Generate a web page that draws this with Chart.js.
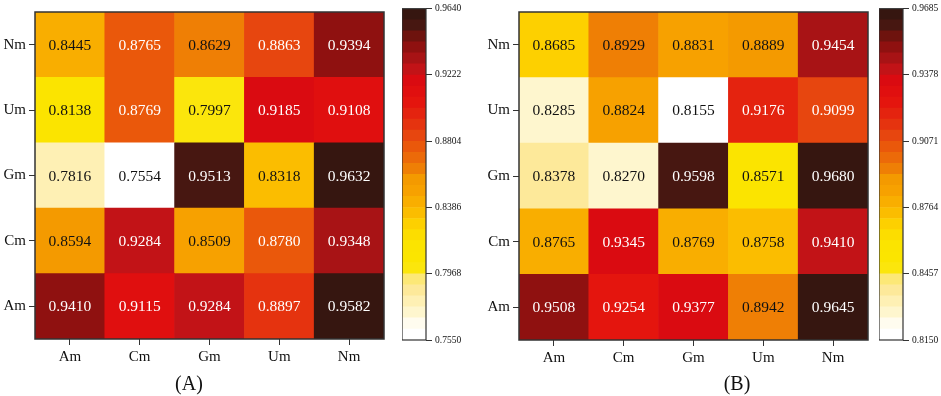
<!DOCTYPE html>
<html>
<head>
<meta charset="utf-8">
<script src="https://cdn.jsdelivr.net/npm/chart.js@4.4.1/dist/chart.umd.min.js"></script>
<style>
  html, body { margin: 0; padding: 0; background: #fff; }
  #wrap { position: relative; width: 941px; height: 396px; overflow: hidden; background: #fff; }
  canvas { position: absolute; }
  .cap { position: absolute; font-family: 'Liberation Serif', 'DejaVu Serif', serif; font-size: 20px; color: #111; transform: translate(-50%, -50%); white-space: nowrap; }
</style>
</head>
<body>
<div id="wrap">
  <div style="position:absolute;left:0;top:0;width:390px;height:380px;"><canvas id="hA"></canvas></div>
  <div style="position:absolute;left:402px;top:0;width:60px;height:360px;"><canvas id="cA"></canvas></div>
  <div style="position:absolute;left:470px;top:0;width:404px;height:380px;"><canvas id="hB"></canvas></div>
  <div style="position:absolute;left:879px;top:0;width:62px;height:360px;"><canvas id="cB"></canvas></div>
  <div class="cap" style="left:189px;top:383px;">(A)</div>
  <div class="cap" style="left:737px;top:383px;">(B)</div>
</div>
<script>
// ---------------- DATA ----------------
const rowLabels = ['Am', 'Cm', 'Gm', 'Um', 'Nm'];   // bottom to top
const colLabels = ['Am', 'Cm', 'Gm', 'Um', 'Nm'];

// Panel A values, one array per row
const A_Am = [0.9410, 0.9115, 0.9284, 0.8897, 0.9582];
const A_Cm = [0.8594, 0.9284, 0.8509, 0.8780, 0.9348];
const A_Gm = [0.7816, 0.7554, 0.9513, 0.8318, 0.9632];
const A_Um = [0.8138, 0.8769, 0.7997, 0.9185, 0.9108];
const A_Nm = [0.8445, 0.8765, 0.8629, 0.8863, 0.9394];

// Panel B values, one array per row
const B_Am = [0.9508, 0.9254, 0.9377, 0.8942, 0.9645];
const B_Cm = [0.8765, 0.9345, 0.8769, 0.8758, 0.9410];
const B_Gm = [0.8378, 0.8270, 0.9598, 0.8571, 0.9680];
const B_Um = [0.8285, 0.8824, 0.8155, 0.9176, 0.9099];
const B_Nm = [0.8685, 0.8929, 0.8831, 0.8889, 0.9454];

// Colorbar tick labels
const A_ticks = ['0.7550', '0.7968', '0.8386', '0.8804', '0.9222', '0.9640'];
const B_ticks = ['0.8150', '0.8457', '0.8764', '0.9071', '0.9378', '0.9685'];

// ---------------- COLOR MAP ----------------
const N_BANDS = 30;
const anchors = [
  [0.00, '#ffffff'], [0.035, '#ffffff'], [0.06, '#fffae4'], [0.09, '#fef5c8'], [0.15, '#fde99a'],
  [0.19, '#fce870'], [0.22, '#fbe600'], [0.30, '#fbe300'], [0.35, '#fdd000'],
  [0.40, '#fab400'], [0.45, '#f7a100'], [0.50, '#f39700'], [0.52, '#ee7a06'],
  [0.58, '#ea5a0b'], [0.62, '#e7440f'], [0.67, '#e4280f'], [0.72, '#e4140e'],
  [0.78, '#dc0a10'], [0.82, '#c01418'], [0.86, '#a01214'], [0.89, '#8a110f'],
  [0.92, '#6a130e'], [0.945, '#4a1711'], [1.00, '#2e1610']
];
function hex2rgb(h) { return [parseInt(h.slice(1,3),16), parseInt(h.slice(3,5),16), parseInt(h.slice(5,7),16)]; }
function cmap(t) {
  t = Math.max(0, Math.min(1, t));
  for (let i = 0; i < anchors.length - 1; i++) {
    const [t0, c0] = anchors[i], [t1, c1] = anchors[i + 1];
    if (t <= t1) {
      const f = (t - t0) / (t1 - t0);
      const a = hex2rgb(c0), b = hex2rgb(c1);
      return 'rgb(' + a.map((v, k) => Math.round(v + (b[k] - v) * f)).join(',') + ')';
    }
  }
  return anchors[anchors.length - 1][1];
}
function bandIndex(t) { return Math.max(0, Math.min(N_BANDS - 1, Math.floor(t * N_BANDS))); }
function bandColor(i) { return cmap((i + 0.5) / N_BANDS); }

Chart.defaults.font.family = "'Liberation Serif', 'DejaVu Serif', serif";
Chart.defaults.color = '#111';

const borderPlugin = {
  id: 'boxBorder',
  afterDraw(chart) {
    const a = chart.chartArea, ctx = chart.ctx;
    ctx.save();
    ctx.strokeStyle = '#333';
    ctx.lineWidth = chart.options.plugins.boxBorder.width || 1.5;
    ctx.strokeRect(a.left, a.top, a.right - a.left, a.bottom - a.top);
    ctx.restore();
  }
};

const cellTextPlugin = {
  id: 'cellText',
  afterDatasetsDraw(chart) {
    const ctx = chart.ctx;
    const o = chart.options.plugins.cellText;
    ctx.save();
    ctx.font = "15.5px 'Liberation Serif', 'DejaVu Serif', serif";
    ctx.textAlign = 'center';
    ctx.textBaseline = 'middle';
    chart.data.datasets.forEach((ds, di) => {
      const meta = chart.getDatasetMeta(di);
      meta.data.forEach((el, i) => {
        const v = ds.values[i];
        const t = (v - o.vmin) / (o.vmax - o.vmin);
        ctx.fillStyle = t > 0.55 ? '#ffffff' : '#111111';
        ctx.fillText(v.toFixed(4), el.x, (el.y + el.base) / 2 + 1);
      });
    });
    ctx.restore();
  }
};

function heatmap(id, rowsData, tickLabels, yWidth, topPad, xHeight) {
  const vmin = parseFloat(tickLabels[0]), vmax = parseFloat(tickLabels[tickLabels.length - 1]);
  const datasets = rowsData.map((vals, r) => ({
    label: rowLabels[r],
    values: vals,
    data: vals.map(() => [r, r + 1]),
    backgroundColor: vals.map(v => bandColor(bandIndex((v - vmin) / (vmax - vmin)))),
    borderWidth: 0,
    barPercentage: 1.0,
    categoryPercentage: 1.0,
    grouped: false
  }));
  return new Chart(document.getElementById(id), {
    type: 'bar',
    data: { labels: colLabels, datasets },
    options: {
      responsive: true, maintainAspectRatio: false, animation: false,
      layout: { padding: { left: 0, right: 6, top: topPad, bottom: 0 } },
      plugins: { legend: { display: false }, tooltip: { enabled: false },
        boxBorder: { width: 1.5 }, cellText: { vmin, vmax } },
      scales: {
        x: {
          grid: { drawOnChartArea: false, offset: false, tickLength: 6, color: '#333', lineWidth: 1 },
          border: { display: false },
          ticks: { font: { size: 15 }, color: '#111', padding: 3, maxRotation: 0 },
          afterFit(s) { s.height = xHeight; }
        },
        y: {
          min: 0, max: 5,
          grid: { drawOnChartArea: false, tickLength: 6, color: '#333', lineWidth: 1 },
          border: { display: false },
          afterBuildTicks(s) { s.ticks = [0.5, 1.5, 2.5, 3.5, 4.5].map(v => ({ value: v })); },
          ticks: { autoSkip: false, font: { size: 15 }, color: '#111', padding: 3,
            callback: (v) => rowLabels[Math.floor(v)] },
          afterFit(s) { s.width = yWidth; }
        }
      }
    },
    plugins: [borderPlugin, cellTextPlugin]
  });
}

function colorbar(id, tickLabels, yWidth, topPad, bottomPad) {
  const vmin = parseFloat(tickLabels[0]), vmax = parseFloat(tickLabels[tickLabels.length - 1]);
  const step = (vmax - vmin) / N_BANDS;
  const datasets = [];
  for (let i = 0; i < N_BANDS; i++) {
    datasets.push({
      data: [[vmin + i * step, vmin + (i + 1) * step]],
      backgroundColor: bandColor(i),
      borderWidth: 0, barPercentage: 1.0, categoryPercentage: 1.0, grouped: false
    });
  }
  return new Chart(document.getElementById(id), {
    type: 'bar',
    data: { labels: [''], datasets },
    options: {
      responsive: true, maintainAspectRatio: false, animation: false,
      layout: { padding: { left: 0, right: 0, top: topPad, bottom: bottomPad } },
      plugins: { legend: { display: false }, tooltip: { enabled: false }, boxBorder: { width: 1.2 } },
      scales: {
        x: { display: false },
        y: {
          position: 'right', min: vmin, max: vmax,
          grid: { drawOnChartArea: false, tickLength: 6, color: '#333', lineWidth: 1 },
          border: { display: false },
          afterBuildTicks(s) { s.ticks = tickLabels.map(t => ({ value: parseFloat(t) })); },
          ticks: { autoSkip: false, font: { size: 9.5 }, color: '#111', padding: 3,
            callback: (v, i) => tickLabels[i] },
          afterFit(s) { s.width = yWidth; }
        }
      }
    },
    plugins: [borderPlugin]
  });
}

heatmap('hA', [A_Am, A_Cm, A_Gm, A_Um, A_Nm], A_ticks, 35, 4, 41);
colorbar('cA', A_ticks, 36, 5, 20);
heatmap('hB', [B_Am, B_Cm, B_Gm, B_Um, B_Nm], B_ticks, 49, 5, 40);
colorbar('cB', B_ticks, 38, 6, 20);
</script>
</body>
</html>
